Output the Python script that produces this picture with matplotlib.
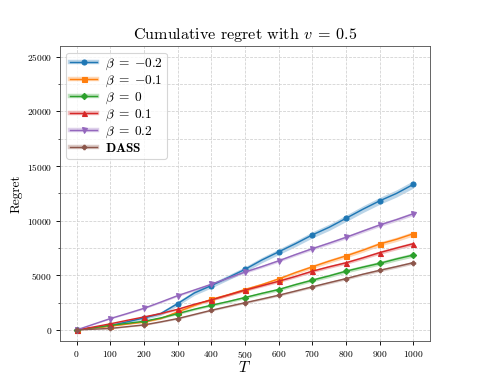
import numpy as np
import matplotlib
matplotlib.use("Agg")
import matplotlib.pyplot as plt
from matplotlib.lines import Line2D

plt.rcParams['font.family'] = 'serif'
plt.rcParams['font.serif'] = ['cmr10']
plt.rcParams['mathtext.fontset'] = 'cm'
plt.rcParams['axes.unicode_minus'] = False
plt.rcParams['axes.formatter.use_mathtext'] = True

T = [0, 50, 100, 150, 200, 250, 300, 350, 400, 450, 500, 550, 600, 650, 700, 750, 800, 850, 900, 950, 1000]

blue = [0, 190, 400, 740, 1100, 1500, 2410, 3390, 4060, 4800, 5545, 6400, 7150, 7900, 8700, 9400, 10220, 11050, 11820, 12500, 13330]
orange = [0, 160, 350, 540, 730, 1050, 1650, 2250, 2800, 3220, 3700, 4150, 4670, 5250, 5780, 6300, 6780, 7300, 7870, 8300, 8810]
green = [0, 200, 420, 600, 790, 1100, 1490, 1900, 2260, 2600, 2970, 3350, 3700, 4150, 4560, 4950, 5380, 5750, 6100, 6500, 6860]
red = [0, 270, 560, 880, 1190, 1500, 1890, 2350, 2745, 3200, 3640, 4050, 4455, 4900, 5380, 5780, 6150, 6600, 7080, 7500, 7900]
purple = [0, 520, 1040, 1500, 1980, 2550, 3140, 3660, 4180, 4750, 5300, 5800, 6330, 6900, 7440, 7950, 8480, 9050, 9610, 10100, 10640]
brown = [0, 70, 140, 300, 460, 740, 1040, 1420, 1800, 2150, 2490, 2830, 3180, 3560, 3950, 4330, 4700, 5100, 5460, 5800, 6160]

blue_sd = [0, 50, 80, 110, 140, 170, 200, 210, 220, 230, 240, 250, 260, 270, 280, 290, 300, 310, 320, 330, 340]
orange_sd = [0, 30, 50, 60, 70, 80, 100, 110, 120, 130, 140, 145, 150, 160, 170, 175, 180, 190, 195, 200, 210]
green_sd = [0, 30, 50, 60, 70, 80, 90, 100, 110, 120, 125, 130, 140, 145, 150, 160, 165, 170, 175, 180, 190]
red_sd = [0, 30, 50, 60, 70, 80, 90, 95, 100, 110, 115, 120, 125, 130, 135, 140, 145, 150, 155, 160, 165]
purple_sd = [0, 30, 50, 60, 70, 80, 90, 95, 100, 110, 115, 120, 125, 130, 135, 140, 145, 150, 155, 160, 165]
brown_sd = [0, 20, 35, 45, 55, 60, 70, 75, 80, 85, 90, 95, 100, 105, 110, 115, 120, 125, 130, 135, 140]

labels = [r'$\beta\;=\;{-}0.2$', r'$\beta\;=\;{-}0.1$', r'$\beta\;=\;0$', r'$\beta\;=\;0.1$',
          r'$\beta\;=\;0.2$', r'$\mathbf{DASS}$']
series = [blue, orange, green, red, purple, brown]
sds = [blue_sd, orange_sd, green_sd, red_sd, purple_sd, brown_sd]
colors = ['#1f77b4', '#ff7f0e', '#2ca02c', '#d62728', '#9467bd', '#8c564b']
markers = ['o', 's', 'D', '^', 'v', 'P']
msizes = [4.5, 4.5, 4, 4.5, 4.5, 4]

fig = plt.figure(figsize=(478 / 80, 383 / 80), dpi=80)
ax = fig.add_subplot(111)

handles = []
x = np.array(T)
for y, sd, lab, c, m, ms in zip(series, sds, labels, colors, markers, msizes):
    y = np.array(y, dtype=float)
    sd = np.array(sd, dtype=float)
    ax.fill_between(x, y - sd, y + sd, color=c, alpha=0.3, linewidth=0)
    ax.plot(x, y, color=c, marker=m, markersize=ms, markevery=2, linewidth=1.3)
    band = Line2D([], [], color=c, alpha=0.3, linewidth=4)
    ln = Line2D([], [], color=c, marker=m, markersize=ms, linewidth=1.3)
    handles.append((band, ln))

ax.set_xlim(-50, 1050)
ax.set_ylim(-1000, 26000)
ax.set_xticks(np.arange(0, 1001, 100))
ax.set_yticks(np.arange(0, 25001, 5000))
ax.set_yticks(np.arange(2500, 25001, 5000), minor=True)
ax.grid(True, which='both', linestyle='--', color='#d0d0d0', linewidth=0.7)
ax.tick_params(labelsize=8.5)
for s in ax.spines.values():
    s.set_color('#555555')

ax.set_title(r'Cumulative regret with $v\:=\:0.5$', fontsize=14.5)
ax.set_xlabel(r'$T$', fontsize=14, labelpad=0)
ax.set_ylabel('Regret', fontsize=12)
ax.legend(handles, labels, loc='upper left', fontsize=12, labelspacing=0.12,
          handlelength=2.0, borderpad=0.3, handletextpad=0.6)

fig.savefig('out.png', dpi=80)
